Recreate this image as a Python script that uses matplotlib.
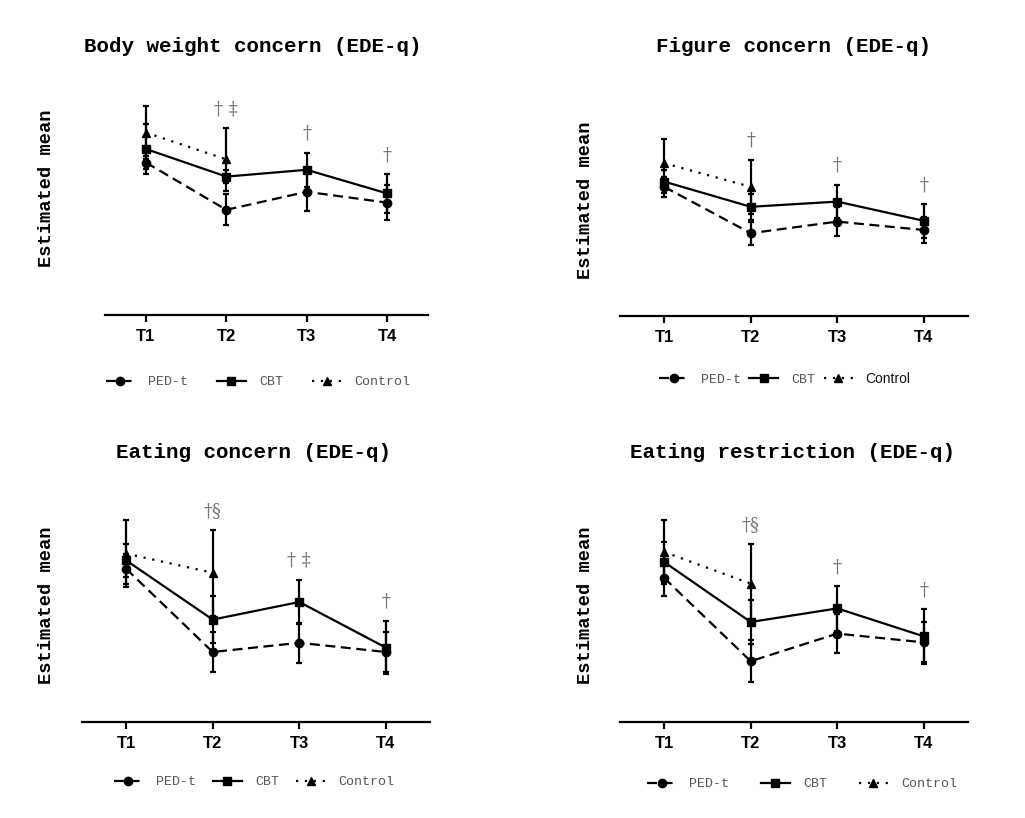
import matplotlib
matplotlib.use("Agg")
from matplotlib import pyplot as plt
from matplotlib.lines import Line2D
import numpy as np

W, H = 1025, 818

times = ["T1", "T2", "T3", "T4"]

titles = ["Body weight concern (EDE-q)", "Figure concern (EDE-q)",
          "Eating concern (EDE-q)", "Eating restriction (EDE-q)"]

# estimated means and error half-widths (arbitrary units, axis baseline = 0)
ped_mean = [[3.81, 2.63, 3.08, 2.81],
            [3.23, 2.07, 2.36, 2.15],
            [3.83, 1.75, 1.98, 1.75],
            [3.60, 1.52, 2.21, 1.99]]
ped_err = [[0.17, 0.39, 0.48, 0.43],
           [0.25, 0.29, 0.36, 0.32],
           [0.38, 0.50, 0.50, 0.50],
           [0.45, 0.52, 0.48, 0.50]]
cbt_mean = [[4.15, 3.46, 3.63, 3.04],
            [3.36, 2.73, 2.86, 2.38],
            [4.04, 2.56, 3.00, 1.86],
            [4.00, 2.50, 2.84, 2.14]]
cbt_err = [[0.63, 0.17, 0.43, 0.48],
           [0.29, 0.32, 0.42, 0.42],
           [0.42, 0.58, 0.56, 0.67],
           [0.50, 0.56, 0.56, 0.68]]
# control group only measured at T1 and T2
ctrl_mean = [[4.56, 3.89], [3.82, 3.23], [4.21, 3.73], [4.25, 3.46]]
ctrl_err = [[0.67, 0.78], [0.60, 0.68], [0.83, 1.08], [0.81, 1.00]]

marks = [{1: "† ‡", 2: "†", 3: "†"},
         {1: "†", 2: "†", 3: "†"},
         {1: "†§", 2: "† ‡", 3: "†"},
         {1: "†§", 2: "†", 3: "†"}]

# layout in pixels
boxes = [(105, 428, 315), (620, 968, 316), (82, 430, 722), (620, 968, 722)]
title_pos = [(253, 47), (793, 47), (253, 452), (792, 452)]
ylab_pos = [(47, 188), (586, 200), (47, 605), (586, 605)]
leg_pos = [(258, 382, 2.2), (785, 379, 0.6), (254, 782, 1.3), (802, 784, 2.4)]

fig = plt.figure(figsize=(W / 100, H / 100), dpi=100)

mono = "Liberation Mono"
txtgray = "#555555"
dash = (0, (4.5, 2.5))
dot = (0, (1, 3))

for i in range(4):
    l, r, b = boxes[i]
    ax = fig.add_axes([l / W, (H - b) / H, (r - l) / W, 240 / H])
    x = np.arange(4)
    ek = dict(color="black", lw=1.6, capsize=2.4, capthick=1.6, markersize=6)
    ax.errorbar(x, ped_mean[i], yerr=ped_err[i], fmt="o", ls=dash, **ek)
    ax.errorbar(x, cbt_mean[i], yerr=cbt_err[i], fmt="s", ls="-", **ek)
    ax.errorbar(x[:2], ctrl_mean[i], yerr=ctrl_err[i], fmt="^", ls=dot, **ek)

    for k, s in marks[i].items():
        top = max(ped_mean[i][k] + ped_err[i][k], cbt_mean[i][k] + cbt_err[i][k])
        if k < 2:
            top = max(top, ctrl_mean[i][k] + ctrl_err[i][k])
        ax.text(k, top + 0.47, s, ha="center", va="center", fontsize=13,
                color="#777777", family="DejaVu Serif")

    ax.set_xlim(-0.51, 3.51)
    ax.set_ylim(0, 6)
    ax.set_yticks([])
    ax.set_xticks(x)
    ax.set_xticklabels(times, fontsize=12, fontweight="bold", family="Liberation Sans")
    ax.tick_params(axis="x", length=5, width=1.6, pad=5)
    for sp in ["top", "right", "left"]:
        ax.spines[sp].set_visible(False)
    ax.spines["bottom"].set_linewidth(1.6)
    ax.patch.set_alpha(0)

    tx, ty = title_pos[i]
    fig.text(tx / W, 1 - ty / H, titles[i], ha="center", va="center",
             fontsize=15, fontweight="bold", family=mono)
    yx, yy = ylab_pos[i]
    fig.text(yx / W, 1 - yy / H, "Estimated mean", ha="center", va="center",
             rotation=90, fontsize=13.5, fontweight="bold", family=mono)

    handles = [Line2D([], [], color="black", lw=1.6, ls=dash, marker="o", markersize=6),
               Line2D([], [], color="black", lw=1.6, ls="-", marker="s", markersize=6),
               Line2D([], [], color="black", lw=1.6, ls=dot, marker="^", markersize=6)]
    lx, ly, cs = leg_pos[i]
    leg = ax.legend(handles, ["PED-t", "CBT", "Control"], ncol=3,
                    loc="center", bbox_to_anchor=(lx / W, 1 - ly / H),
                    bbox_transform=fig.transFigure, frameon=False,
                    handlelength=2.2, handletextpad=1.0, columnspacing=cs,
                    prop={"family": mono, "size": 9.5})
    for t in leg.get_texts():
        t.set_color(txtgray)
    if i == 1:
        leg.get_texts()[2].set_family("Liberation Sans")
        leg.get_texts()[2].set_color("#111111")
        leg.get_texts()[2].set_fontsize(10)

fig.savefig("out.png", dpi=100)
